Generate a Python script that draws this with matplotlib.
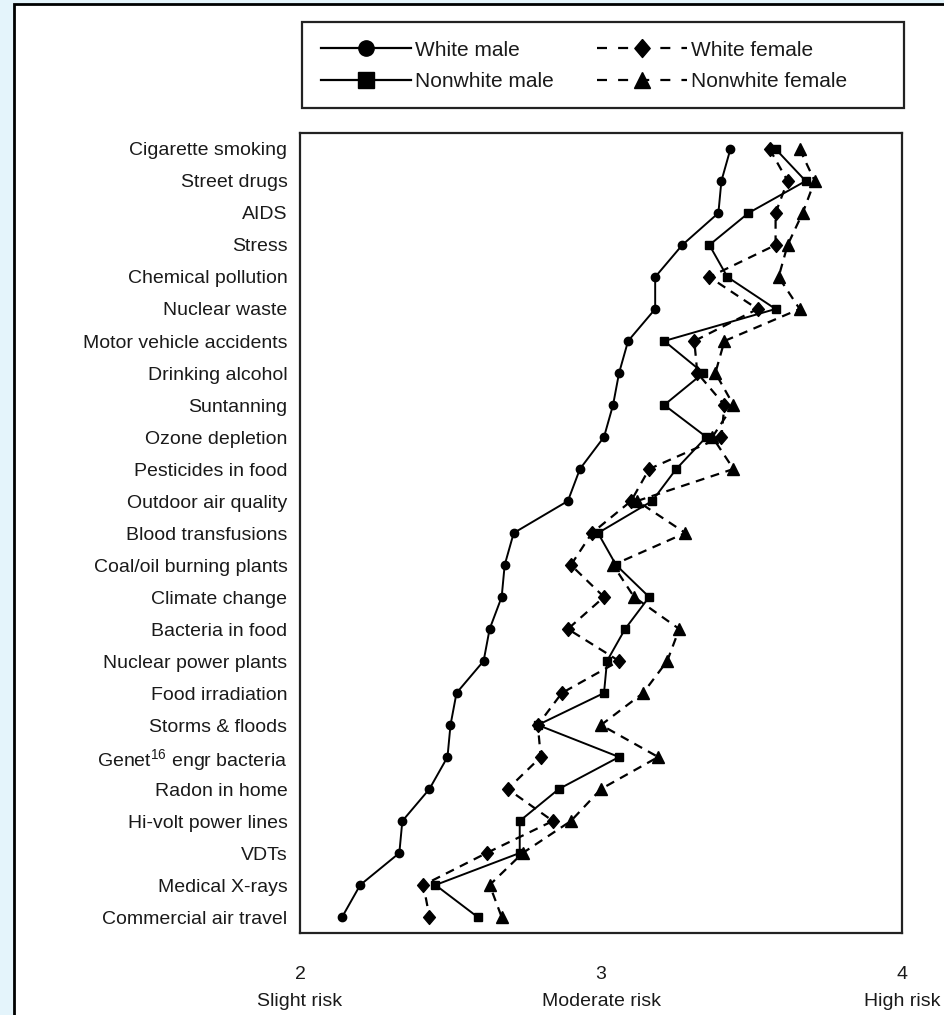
import matplotlib
matplotlib.use("Agg")
import matplotlib.pyplot as plt
from matplotlib.lines import Line2D
from matplotlib.patches import Rectangle

plt.rcParams['font.family'] = ['Liberation Sans', 'DejaVu Sans']
plt.rcParams['mathtext.default'] = 'regular'

hazards = ['Cigarette smoking', 'Street drugs', 'AIDS', 'Stress',
           'Chemical pollution', 'Nuclear waste', 'Motor vehicle accidents',
           'Drinking alcohol', 'Suntanning', 'Ozone depletion',
           'Pesticides in food', 'Outdoor air quality', 'Blood transfusions',
           'Coal/oil burning plants', 'Climate change', 'Bacteria in food',
           'Nuclear power plants', 'Food irradiation', 'Storms & floods',
           'Genet$^{16}$ engr bacteria', 'Radon in home', 'Hi-volt power lines',
           'VDTs', 'Medical X-rays', 'Commercial air travel']

white_male = [3.43, 3.40, 3.39, 3.27, 3.18, 3.18, 3.09, 3.06, 3.04, 3.01,
              2.93, 2.89, 2.71, 2.68, 2.67, 2.63, 2.61, 2.52, 2.50, 2.49,
              2.43, 2.34, 2.33, 2.20, 2.14]
nonwhite_male = [3.58, 3.68, 3.49, 3.36, 3.42, 3.58, 3.21, 3.34, 3.21, 3.35,
                 3.25, 3.17, 2.99, 3.05, 3.16, 3.08, 3.02, 3.01, 2.79, 3.06,
                 2.86, 2.73, 2.73, 2.45, 2.59]
white_female = [3.56, 3.62, 3.58, 3.58, 3.36, 3.52, 3.31, 3.32, 3.41, 3.40,
                3.16, 3.10, 2.97, 2.90, 3.01, 2.89, 3.06, 2.87, 2.79, 2.80,
                2.69, 2.84, 2.62, 2.41, 2.43]
nonwhite_female = [3.66, 3.71, 3.67, 3.62, 3.59, 3.66, 3.41, 3.38, 3.44, 3.37,
                   3.44, 3.12, 3.28, 3.04, 3.11, 3.26, 3.22, 3.14, 3.00, 3.19,
                   3.00, 2.90, 2.74, 2.63, 2.67]

risk_ticks = [2, 3, 4]
risk_names = ['Slight risk', 'Moderate risk', 'High risk']

W, H = 945, 1015
fig = plt.figure(figsize=(W / 100, H / 100), dpi=100, facecolor='#e4f4fb')

# white page with black border behind everything
page = Rectangle((14 / W, -0.01), 1.0, 1 - 4 / H + 0.01, transform=fig.transFigure,
                 facecolor='white', edgecolor='black', linewidth=2, zorder=-10)
fig.patches.append(page)

# diamond slightly taller than wide
diamond = [(0, 1), (0.85, 0), (0, -1), (-0.85, 0), (0, 1)]

ax = fig.add_axes([300 / W, 1 - 933 / H, 602 / W, 800 / H])
ax.set_zorder(1)
rows = list(range(len(hazards)))
dash = (0, (4, 3))

ax.plot(white_male, rows, color='black', lw=1.4, marker='o', ms=6, zorder=3)
ax.plot(nonwhite_male, rows, color='black', lw=1.4, marker='s', ms=6, zorder=3)
ax.plot(white_female, rows, color='black', lw=1.6, ls=dash, marker=diamond, ms=10, zorder=3)
ax.plot(nonwhite_female, rows, color='black', lw=1.6, ls=dash, marker='^', ms=8.5, zorder=3)

ax.set_xlim(2, 4)
ax.set_ylim(len(hazards) - 0.5, -0.5)
ax.set_yticks(rows)
ax.set_yticklabels(hazards, fontsize=14, color='#1a1a1a')
ax.set_xticks(risk_ticks)
ax.set_xticklabels([f'{t}\n{n}' for t, n in zip(risk_ticks, risk_names)],
                   fontsize=14, color='#1a1a1a', linespacing=1.75)
ax.tick_params(axis='y', length=0, pad=9)
ax.tick_params(axis='x', length=0, pad=24)
for sp in ax.spines.values():
    sp.set_linewidth(1.6)
    sp.set_color('#222222')

# legend box drawn on its own, entries placed inside without a frame
box = Rectangle((302 / W, 1 - 108 / H), 602 / W, 86 / H, transform=fig.transFigure,
                facecolor='white', edgecolor='#222222', linewidth=1.6, zorder=1)
fig.patches.append(box)

ldash = (0, (4.5, 5))
handles = [
    Line2D([], [], color='black', lw=1.6, marker='o', ms=11),
    Line2D([], [], color='black', lw=1.6, marker='s', ms=11),
    Line2D([], [], color='black', lw=1.6, ls=ldash, marker=diamond, ms=13),
    Line2D([], [], color='black', lw=1.6, ls=ldash, marker='^', ms=11),
]
labels = ['White male', 'Nonwhite male', 'White female', 'Nonwhite female']
leg = fig.legend(handles, labels, loc='center left', ncol=2, fontsize=15,
                 bbox_to_anchor=(321 / W, 1 - 66 / H),
                 handlelength=4.3, handletextpad=0.2,
                 borderaxespad=0, borderpad=0, labelspacing=0.6,
                 columnspacing=2.1, frameon=False)
leg.set_zorder(2)
for t in leg.get_texts():
    t.set_color('#1a1a1a')

fig.savefig('out.png', dpi=100, facecolor=fig.get_facecolor())
